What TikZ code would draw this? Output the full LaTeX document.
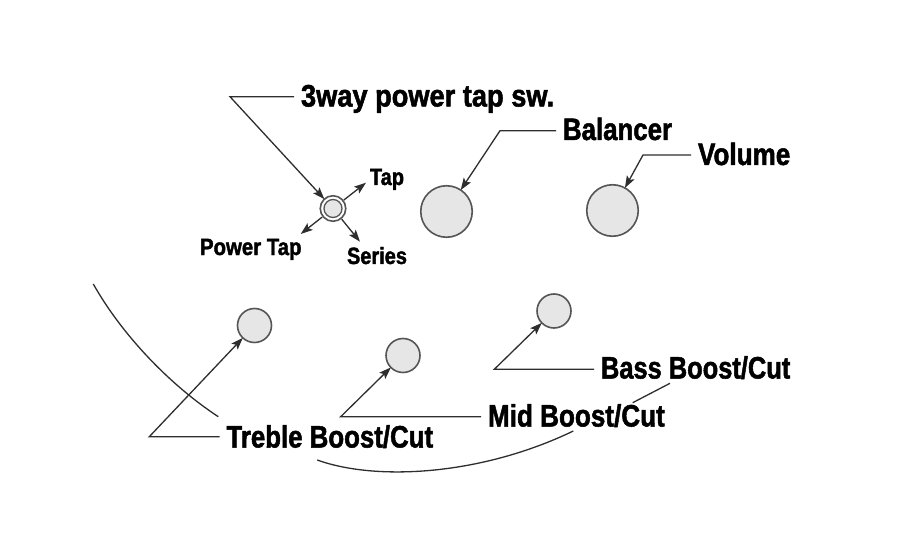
\documentclass[tikz,border=0pt]{standalone}
\usepackage{fontspec}
\setmainfont{Liberation Sans}[FakeStretch=0.85,BoldFeatures={FakeBold=1.6}]
\usetikzlibrary{arrows.meta}
\definecolor{ln}{HTML}{2E2E2E}
\definecolor{rim}{HTML}{555555}
\definecolor{knobfill}{HTML}{E6E6E6}
\tikzset{
  x=1pt,y=-1pt,
  knob/.style={circle,draw=rim,fill=knobfill,line width=1.6pt,inner sep=0pt,outer sep=0pt,minimum size=#1},
  biglabel/.style={anchor=base west,inner xsep=7pt,inner ysep=0pt,outer sep=0pt,font=\fontsize{31}{31}\selectfont\bfseries,text=black},
  smalllabel/.style={anchor=base west,inner sep=0pt,outer sep=0pt,font=\fontsize{23.5}{23.5}\selectfont\bfseries,text=black},
  leader/.style={draw=ln,line width=1.3pt,line join=miter},
  leadarrow/.style={leader,-{Stealth[length=12pt,width=8.5pt,inset=2.5pt]}},
  outline/.style={draw=ln,line width=1.3pt},
}
\begin{document}
\begin{tikzpicture}
\useasboundingbox[fill=white] (0,0) rectangle (900,540);
% knobs
\node[knob=25.5pt,fill=white] (sw) at (333,208.5) {};
\node[knob=18pt,line width=1.3pt] (swin) at (333,208.5) {};
\node[knob=51.5pt] (bal) at (446.5,211.5) {};
\node[knob=51.5pt] (vol) at (612.5,210.5) {};
\node[knob=34pt] (tre) at (254.5,325.5) {};
\node[knob=34pt] (mid) at (403,355.5) {};
\node[knob=34pt] (bas) at (554,311) {};
% labels
\node[biglabel] (l3) at (294,106.5) {\scalebox{1.033}[1]{3way power tap sw.}};
\node[biglabel] (lbal) at (556,140) {\scalebox{0.98}[1]{Balancer}};
\node[biglabel] (lvol) at (691,165) {\scalebox{0.99}[1]{Volume}};
\node[biglabel] (ltre) at (219.5,447.5) {\scalebox{0.98}[1]{Treble Boost/Cut}};
\node[biglabel] (lmid) at (481,426.5) {\scalebox{0.99}[1]{Mid Boost/Cut}};
\node[biglabel] (lbas) at (594,378.5) {\scalebox{0.965}[1]{Bass Boost/Cut}};
\node[smalllabel] (ltap) at (370,185) {Tap};
\node[smalllabel] (lpow) at (200,255) {\scalebox{1.02}[1]{Power Tap}};
\node[smalllabel] (lser) at (347,264) {Series};
% bends
\coordinate (c3) at (230,96.7);
\coordinate (cbal) at (500,130.7);
\coordinate (cvol) at (643,155);
\coordinate (ctre) at (149.3,436.7);
\coordinate (cmid) at (340.7,416.7);
\coordinate (cbas) at (494.3,369.3);
% switch position tips
\coordinate (ttap) at (366,182.7);
\coordinate (tpow) at (300.7,234);
\coordinate (tser) at (360,241.7);
% leaders
\draw[leadarrow] (c3 -| l3.west) -- (c3) -- (sw);
\draw[leadarrow] (cbal -| lbal.west) -- (cbal) -- (bal);
\draw[leadarrow] (cvol -| lvol.west) -- (cvol) -- (vol);
\draw[leadarrow] (ctre -| ltre.west) -- (ctre) -- (tre);
\draw[leadarrow] (cmid -| lmid.west) -- (cmid) -- (mid);
\draw[leadarrow] (cbas -| lbas.west) -- (cbas) -- (bas);
\draw[leadarrow,shorten <=1pt] (sw) -- (ttap);
\draw[leadarrow,shorten <=1pt] (sw) -- (tpow);
\draw[leadarrow,shorten <=1pt] (sw) -- (tser);
% body outline
\draw[outline] (93.3,284) .. controls (122,335) and (170,385) .. (218.3,416.7);
\draw[outline] (317.3,460) .. controls (375,481) and (480,476) .. (573.3,431);
\draw[outline] (632.7,402.7) -- (670,383.3);
\end{tikzpicture}
\end{document}
